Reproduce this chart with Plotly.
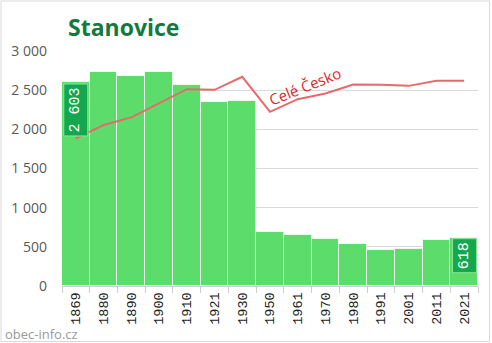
import plotly.graph_objects as go

years = ["1869", "1880", "1890", "1900", "1910", "1921", "1930", "1950",
         "1961", "1970", "1980", "1991", "2001", "2011", "2021"]
population = [2603, 2727, 2675, 2735, 2572, 2352, 2365, 694,
              656, 605, 531, 456, 477, 592, 618]
czechia_scaled = [1885, 2055, 2152, 2332, 2513, 2504, 2670, 2223,
                  2385, 2458, 2572, 2568, 2555, 2619, 2619]
y_ticks = [0, 500, 1000, 1500, 2000, 2500, 3000]
title_text = "Stanovice"
line_label = "Celé Česko"
watermark = "obec-info.cz"
labeled_years = ["1869", "2021"]

W, H = 492, 343
L, R, T, B = 62, 14, 51, 57
ph = H - T - B
pw = W - L - R

def px_x(p):
    return (p - L) / pw

def px_y(p):
    return (H - B - p) / ph

fig = go.Figure()
fig.add_trace(go.Bar(
    x=years, y=population,
    marker=dict(color="#5CDC6A", line=dict(color="rgba(255,255,255,0.75)", width=1)),
    hoverinfo="skip",
))
fig.add_trace(go.Scatter(
    x=years, y=czechia_scaled, mode="lines",
    line=dict(color="#E8696B", width=2),
    hoverinfo="skip",
))

annotations = []
for yr in labeled_years:
    i = years.index(yr)
    val = population[i]
    annotations.append(dict(
        x=i, y=val, xref="x", yref="y",
        text=f"{val:,}".replace(",", " "),
        textangle=-90, showarrow=False,
        xanchor="center", yanchor="top", yshift=-1,
        font=dict(family="Liberation Mono", size=15, color="white"),
        bgcolor="#13A84E", bordercolor="#8FE597", borderwidth=1, borderpad=3,
    ))

annotations.append(dict(
    x=px_x(305), y=px_y(86), xref="paper", yref="paper",
    text=line_label, textangle=-22, showarrow=False,
    xanchor="center", yanchor="middle",
    font=dict(family="Open Sans", size=15, color="#E0262B"),
))
annotations.append(dict(
    x=px_x(66), y=px_y(27), xref="paper", yref="paper",
    text=f"<b>{title_text}</b>", showarrow=False,
    xanchor="left", yanchor="middle",
    font=dict(family="Open Sans", size=23, color="#137A3E"),
))
annotations.append(dict(
    x=px_x(3), y=px_y(333.5), xref="paper", yref="paper",
    text=watermark, showarrow=False,
    xanchor="left", yanchor="middle",
    font=dict(family="Open Sans", size=13, color="#9A9A9A"),
))

fig.update_layout(
    width=W, height=H,
    margin=dict(l=L, r=R, t=T, b=B),
    paper_bgcolor="white", plot_bgcolor="white",
    showlegend=False, bargap=0,
    separators=", ",
    annotations=annotations,
    shapes=[dict(type="rect", xref="paper", yref="paper",
                 x0=px_x(1), x1=px_x(489.5), y0=px_y(341.5), y1=px_y(1),
                 line=dict(color="#D9D9D9", width=1), layer="below")],
)
fig.update_xaxes(
    type="category", tickangle=-90, range=[-0.5, len(years) - 0.5],
    tickfont=dict(family="Liberation Mono", size=13.5, color="#222222"),
    ticks="outside", tickson="boundaries", ticklen=6, tickcolor="#CCCCCC",
    showline=True, linecolor="#CCCCCC", linewidth=1,
    showgrid=False, fixedrange=True,
)
fig.update_yaxes(
    range=[0, 3000], tickvals=y_ticks, tickformat=",d",
    tickfont=dict(family="Open Sans", size=14, color="#595959"),
    showgrid=True, gridcolor="#D9D9D9", gridwidth=1,
    zeroline=False, showline=False, ticks="",
    ticklabelstandoff=14, fixedrange=True,
)

fig.write_html("out.html")
